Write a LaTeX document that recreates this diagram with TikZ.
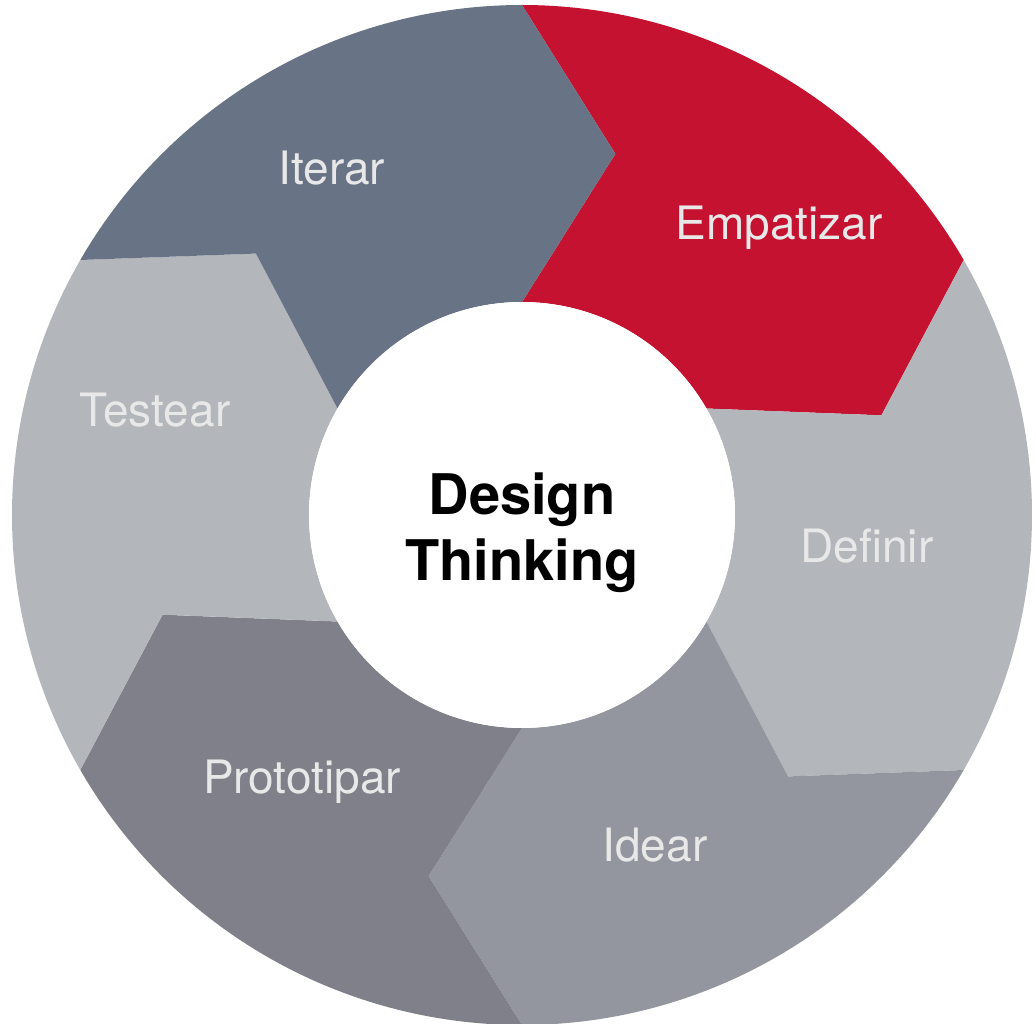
\documentclass[tikz,border=0pt]{standalone}
\usepackage{fontspec}
\setmainfont{TeX Gyre Heros}
\definecolor{cIterar}{HTML}{687486}
\definecolor{cEmpat}{HTML}{C41230}
\definecolor{cLight}{HTML}{B3B6BA}
\definecolor{cIdear}{HTML}{93969E}
\definecolor{cProto}{HTML}{7F8089}
\definecolor{cText}{HTML}{E8E8E8}
\begin{document}
\begin{tikzpicture}[x=1pt,y=1pt,
  lbl/.style={text=cText,font=\fontsize{46}{54}\selectfont,anchor=base,inner sep=0pt},
  seg/.style={draw=none}]
\useasboundingbox (-522,-508) rectangle (514,515);
\def\Ro{510}\def\Ri{213}\def\Rm{373}\def\Off{14.5}
\newcommand{\dtseg}[2]{%
  \pgfmathsetmacro{\aS}{#1}\pgfmathsetmacro{\aE}{#1-60}%
  \pgfmathsetmacro{\mS}{#1-\Off}\pgfmathsetmacro{\mE}{#1-60-\Off}%
  \fill[#2] (\aS:\Ro) arc[start angle=\aS,end angle=\aE,radius=\Ro]
    -- (\mE:\Rm) -- (\aE:\Ri) arc[start angle=\aE,end angle=\aS,radius=\Ri]
    -- (\mS:\Rm) -- cycle;}
\dtseg{90}{cEmpat}
\dtseg{30}{cLight}
\dtseg{-30}{cIdear}
\dtseg{-90}{cProto}
\dtseg{-150}{cLight}
\dtseg{150}{cIterar}
\node[circle,fill=white,minimum size=426pt,inner sep=0pt] (center) at (0,0) {};
\node[anchor=base,align=center,inner sep=0pt,font=\bfseries\fontsize{56}{66}\selectfont] (title) at (0,-65) {Design\\Thinking};
\node[lbl] (iterar) at (-190,330) {Iterar};
\node[lbl] (empatizar) at (257,275) {Empatizar};
\node[lbl] (definir) at (345,-47) {Definir};
\node[lbl] (idear) at (133,-346) {Idear};
\node[lbl] (prototipar) at (-220,-278) {Prototipar};
\node[lbl] (testear) at (-367,89) {Testear};
\end{tikzpicture}
\end{document}
